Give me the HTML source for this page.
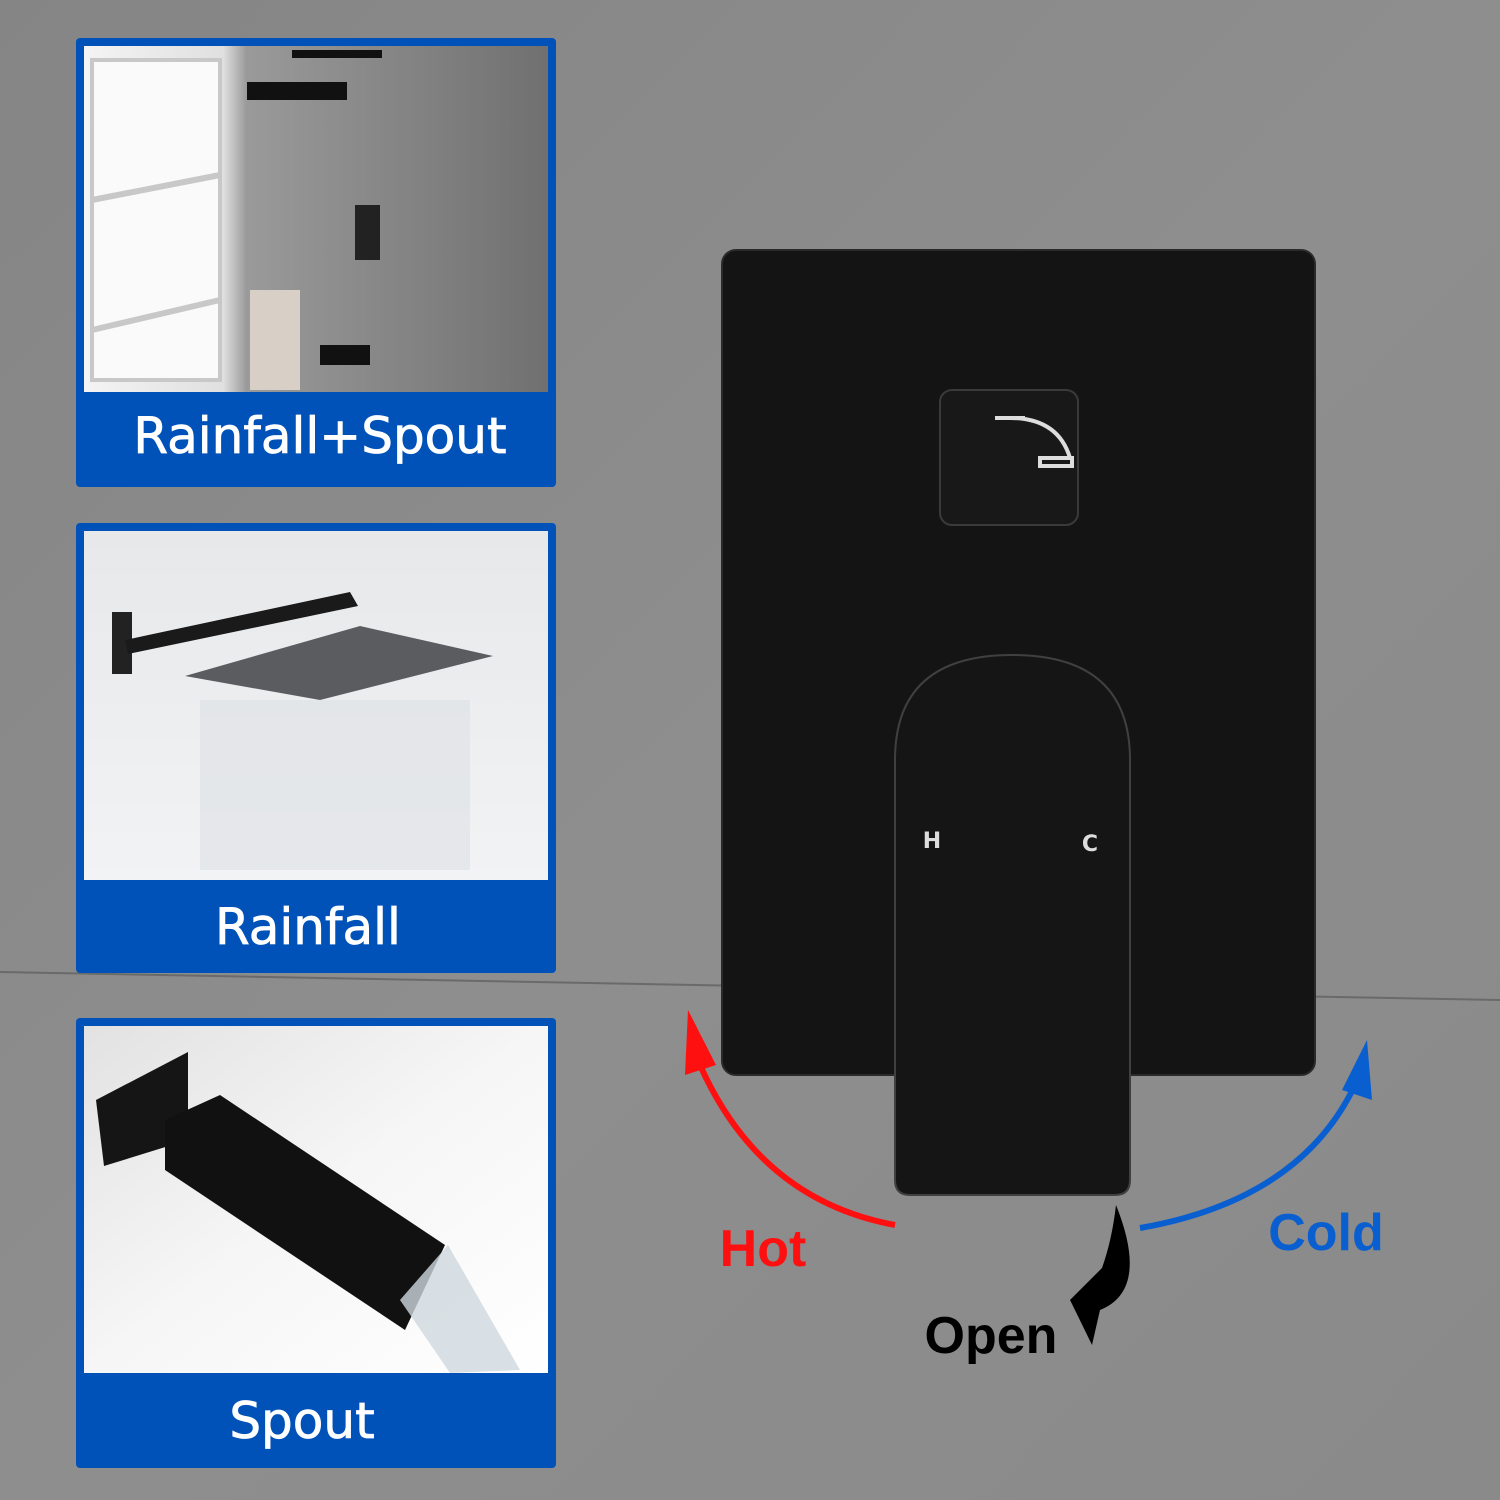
<!DOCTYPE html>
<html><head><meta charset="utf-8"><style>
html,body{margin:0;padding:0;width:1500px;height:1500px;overflow:hidden;background:#8c8c8c}
svg{display:block}
</style></head><body>
<svg width="1500" height="1500" viewBox="0 0 1500 1500" xmlns="http://www.w3.org/2000/svg">
<defs>
<linearGradient id="bg" x1="0" y1="0" x2="1" y2="1"><stop offset="0" stop-color="#858585"/><stop offset="0.5" stop-color="#8e8e8e"/><stop offset="1" stop-color="#8a8a8a"/></linearGradient>
<linearGradient id="p1" x1="0" y1="0" x2="1" y2="0"><stop offset="0" stop-color="#f4f4f4"/><stop offset="0.3" stop-color="#e0e0e0"/><stop offset="0.35" stop-color="#9a9a9a"/><stop offset="1" stop-color="#707070"/></linearGradient>
<linearGradient id="p2" x1="0" y1="0" x2="0" y2="1"><stop offset="0" stop-color="#e6e8ea"/><stop offset="1" stop-color="#f2f3f4"/></linearGradient>
<linearGradient id="p3" x1="0" y1="0" x2="1" y2="1"><stop offset="0" stop-color="#e2e2e2"/><stop offset="0.5" stop-color="#f6f6f6"/><stop offset="1" stop-color="#ffffff"/></linearGradient>
</defs>
<rect width="1500" height="1500" fill="url(#bg)"/>
<line x1="0" y1="972" x2="1500" y2="1000" stroke="#6a6a6a" stroke-width="2"/>

<!-- panel 1 -->
<rect x="76" y="38" width="480" height="449" rx="4" fill="#0052b8"/>
<rect x="84" y="46" width="464" height="346" fill="url(#p1)"/>
<rect x="92" y="60" width="128" height="320" fill="#fafafa" stroke="#c8c8c8" stroke-width="4"/>
<line x1="92" y1="200" x2="220" y2="175" stroke="#c8c8c8" stroke-width="6"/>
<line x1="92" y1="330" x2="220" y2="300" stroke="#c8c8c8" stroke-width="6"/>
<rect x="247" y="82" width="100" height="18" fill="#111"/>
<rect x="292" y="50" width="90" height="8" fill="#111"/>
<rect x="355" y="205" width="25" height="55" fill="#222"/>
<rect x="250" y="290" width="50" height="100" fill="#d8d0c6"/>
<rect x="320" y="345" width="50" height="20" fill="#111"/>
<rect x="84" y="392" width="464" height="87" fill="#0052b8"/>
<text x="320" y="453" font-family="DejaVu Sans, sans-serif" font-size="50" fill="#fff" text-anchor="middle" stroke="#fff" stroke-width="0.8">Rainfall+Spout</text>

<!-- panel 2 -->
<rect x="76" y="523" width="480" height="450" rx="4" fill="#0052b8"/>
<rect x="84" y="531" width="464" height="349" fill="url(#p2)"/>
<rect x="112" y="612" width="20" height="62" fill="#222"/>
<polygon points="125,640 350,592 358,606 128,654" fill="#1a1a1a"/>
<polygon points="185,676 360,626 493,656 320,700" fill="#5a5c60"/>
<rect x="200" y="700" width="270" height="170" fill="#dfe3e7" opacity="0.7"/>
<rect x="84" y="880" width="464" height="85" fill="#0052b8"/>
<text x="308" y="944" font-family="DejaVu Sans, sans-serif" font-size="50" fill="#fff" text-anchor="middle" stroke="#fff" stroke-width="0.8">Rainfall</text>

<!-- panel 3 -->
<rect x="76" y="1018" width="480" height="450" rx="4" fill="#0052b8"/>
<rect x="84" y="1026" width="464" height="347" fill="url(#p3)"/>
<polygon points="96,1100 188,1052 188,1140 104,1166" fill="#151515"/>
<polygon points="165,1120 220,1095 445,1245 405,1330 165,1170" fill="#111"/>
<polygon points="400,1300 448,1245 520,1370 450,1373" fill="#cfd8df" opacity="0.8"/>
<rect x="84" y="1373" width="464" height="87" fill="#0052b8"/>
<text x="302" y="1438" font-family="DejaVu Sans, sans-serif" font-size="50" fill="#fff" text-anchor="middle" stroke="#fff" stroke-width="0.8">Spout</text>

<!-- plate -->
<rect x="722" y="250" width="593" height="825" rx="14" fill="#141414" stroke="#2a2a2a" stroke-width="2"/>
<rect x="940" y="390" width="138" height="135" rx="12" fill="#181818" stroke="#3a3a3a" stroke-width="2"/>
<path d="M995 418 h30 M1010 418 q48 0 60 40 M1040 458 h32 v8 h-32 z" stroke="#ddd" stroke-width="4" fill="none"/>
<path d="M895 1180 V760 Q895 655 1012 655 Q1130 655 1130 760 V1180 Q1130 1195 1115 1195 H910 Q895 1195 895 1180 Z" fill="#151515" stroke="#404040" stroke-width="2"/>
<text x="932" y="848" font-family="DejaVu Sans, sans-serif" font-weight="bold" font-size="22" fill="#ddd" text-anchor="middle">H</text>
<text x="1090" y="851" font-family="DejaVu Sans, sans-serif" font-weight="bold" font-size="22" fill="#ddd" text-anchor="middle">C</text>

<!-- arrows -->
<path d="M895 1225 Q760 1200 700 1065" stroke="#ff1010" stroke-width="6" fill="none"/>
<polygon points="685,1075 688,1010 716,1065" fill="#ff1010"/>
<path d="M1140 1228 Q1300 1200 1355 1085" stroke="#0a5fd0" stroke-width="6" fill="none"/>
<polygon points="1342,1090 1367,1040 1372,1100" fill="#0a5fd0"/>
<path d="M1116 1205 Q1150 1290 1100 1310 L1092 1345 Q1075 1310 1070 1300 L1102 1268 Q1112 1240 1116 1205 Z" fill="#000"/>
<text x="763" y="1266" font-family="Liberation Sans, sans-serif" font-weight="bold" font-size="52" fill="#ff1010" text-anchor="middle">Hot</text>
<text x="1326" y="1250" font-family="Liberation Sans, sans-serif" font-weight="bold" font-size="52" fill="#0a5fd0" text-anchor="middle">Cold</text>
<text x="991" y="1353" font-family="Liberation Sans, sans-serif" font-weight="bold" font-size="52" fill="#000" text-anchor="middle">Open</text>
</svg>
</body></html>
